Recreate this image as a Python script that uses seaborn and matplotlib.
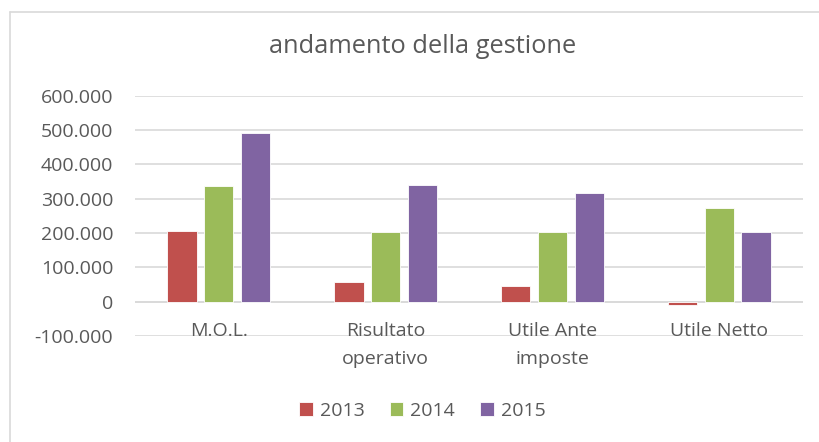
import pandas as pd
import seaborn as sns
import matplotlib.pyplot as plt
from matplotlib.lines import Line2D
from matplotlib.ticker import FuncFormatter

# dati
categorie = ['M.O.L.', 'Risultato\noperativo', 'Utile Ante\nimposte', 'Utile Netto']
anni = ['2013', '2014', '2015']
valori_2013 = [206000, 56000, 45000, -9000]
valori_2014 = [336000, 203000, 204000, 272000]
valori_2015 = [493000, 340000, 316000, 202000]
colori = ['#C0504D', '#9BBB59', '#8064A2']

df = pd.DataFrame({
    'voce': categorie * 3,
    'anno': [a for a in anni for _ in categorie],
    'valore': valori_2013 + valori_2014 + valori_2015,
})

sns.set_style('white')
plt.rcParams['font.family'] = ['Open Sans', 'DejaVu Sans']
testo = '#595959'
fs = 14

fig = plt.figure(figsize=(8.2, 4.42), dpi=100)
ax = fig.add_axes([0.165, 0.24, 0.814, 0.543])

sns.barplot(data=df, x='voce', y='valore', hue='anno', palette=colori,
            width=0.66, gap=0.2, ax=ax, saturation=1, legend=True,
            linewidth=0.6, edgecolor='white')

ax.set_ylim(-100000, 600000)
ax.set_yticks(range(-100000, 600001, 100000))
ax.yaxis.set_major_formatter(FuncFormatter(lambda v, p: f'{int(v):,}'.replace(',', '.')))
ax.grid(axis='y', color='#D9D9D9', linewidth=1.2)
ax.set_axisbelow(True)
for s in ax.spines.values():
    s.set_visible(False)
ax.axhline(0, color='#D9D9D9', linewidth=1.2, zorder=0)
ax.set_xlabel('')
ax.set_ylabel('')
ax.tick_params(axis='both', length=0, labelsize=fs, colors=testo)
ax.tick_params(axis='y', pad=16)
# etichette categorie sotto lo zero
ax.set_xticks(range(len(categorie)))
ax.set_xticklabels([])
for i, c in enumerate(categorie):
    ax.text(i, -58000, c, ha='center', va='top', fontsize=fs, color=testo,
            linespacing=1.75)

fig.text(0.515, 0.895, 'andamento della gestione', ha='center', va='center',
         fontsize=18.3, color=testo)

handles, labels = ax.get_legend_handles_labels()
ax.legend_.remove()
fig.legend(handles, labels, loc='center', bbox_to_anchor=(0.515, 0.07), ncol=3,
           frameon=False, fontsize=fs, labelcolor=testo, handlelength=0.7,
           handleheight=0.7, handletextpad=0.35, columnspacing=1.3)

# bordo del riquadro: visibili solo lato sinistro e superiore
bx, by = 10.5 / 820, 1 - 12 / 442
fig.add_artist(Line2D([bx, 1], [by, by], transform=fig.transFigure,
                      color='#D9D9D9', linewidth=1.2))
fig.add_artist(Line2D([bx, bx], [0, by], transform=fig.transFigure,
                      color='#D9D9D9', linewidth=1.2))

fig.savefig('out.png', dpi=100)
